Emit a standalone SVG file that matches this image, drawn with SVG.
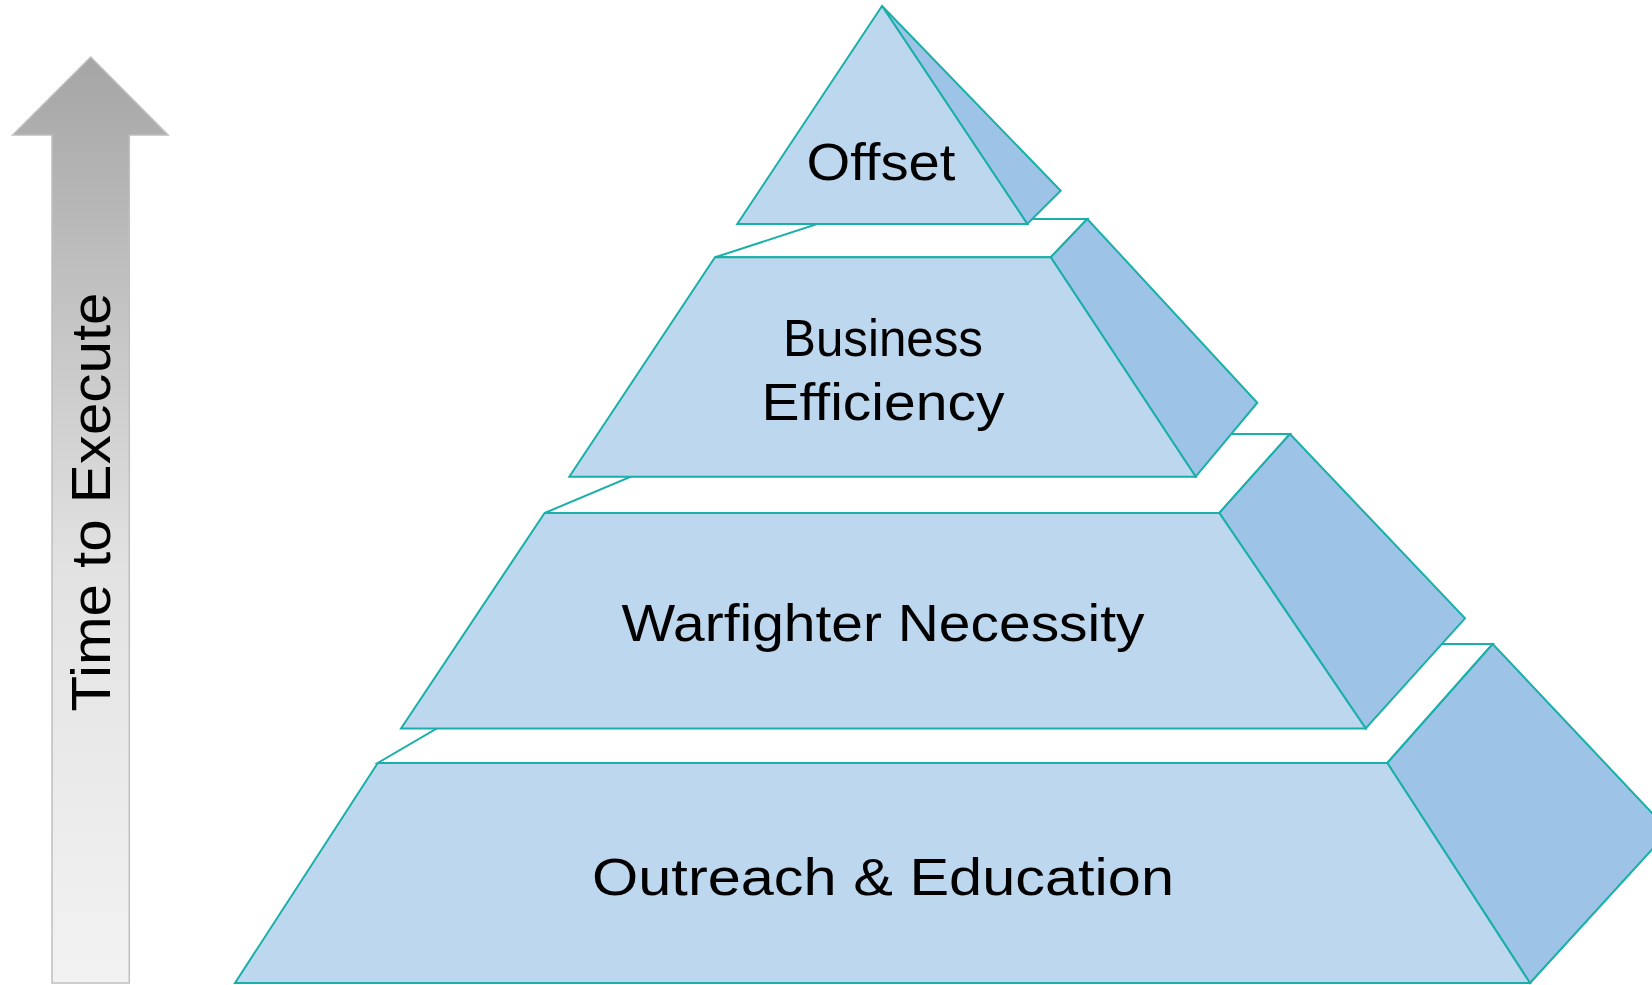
<svg xmlns="http://www.w3.org/2000/svg" width="1652" height="985" viewBox="0 0 1652 985">
<defs>
<linearGradient id="arrGrad" x1="0" y1="0" x2="0" y2="1">
<stop offset="0" stop-color="#A5A5A5"/>
<stop offset="0.55" stop-color="#E2E2E2"/>
<stop offset="1" stop-color="#F2F2F2"/>
</linearGradient>
</defs>
<style>
.front{fill:#BDD7EE;stroke:#1AAFA8;stroke-width:2;stroke-linejoin:miter}
.side{fill:#9DC3E6;stroke:#1AAFA8;stroke-width:2;stroke-linejoin:miter}
.topf{fill:#FFFFFF;stroke:#1AAFA8;stroke-width:2;stroke-linejoin:miter}
.lbl{font-family:"Liberation Sans",Arial,sans-serif;font-size:52px;fill:#000000;text-anchor:middle}
</style>
<rect width="1652" height="985" fill="#FFFFFF"/>
<g id="time-arrow">
<polygon points="90.7,57 168,135 129.3,135 129.3,983 52,983 52,135 12.7,135" fill="url(#arrGrad)" stroke="#BFBFBF" stroke-width="1.5"/>
<text class="lbl" font-size="55" transform="translate(110,502) rotate(-90)" textLength="419" lengthAdjust="spacingAndGlyphs" style="font-size:55px">Time to Execute</text>
</g>
<g id="outreach">
<polygon class="topf" points="377.8,763 1387.3,763 1492.7,644 581,644"/>
<polygon class="side" points="1387.3,763 1492.7,644 1669,831 1530,983"/>
<polygon class="front" points="377.8,763 1387.3,763 1530,983 235,983"/>
<text class="lbl" x="883" y="895" textLength="582" lengthAdjust="spacingAndGlyphs">Outreach &amp; Education</text>
</g>
<g id="warfighter">
<polygon class="topf" points="544.6,513 1219.3,513 1290,434 732,434"/>
<polygon class="side" points="1219.3,513 1290,434 1465,618.3 1365.7,728.5"/>
<polygon class="front" points="544.6,513 1219.3,513 1365.7,728.5 401,728.5"/>
<text class="lbl" x="883" y="641" textLength="523" lengthAdjust="spacingAndGlyphs">Warfighter Necessity</text>
</g>
<g id="business">
<polygon class="topf" points="715,257.3 1050.7,257.3 1087.3,219 832.5,219"/>
<polygon class="side" points="1050.7,257.3 1087.3,219 1257.3,402.7 1195.7,476.7"/>
<polygon class="front" points="715,257.3 1050.7,257.3 1195.7,476.7 569.3,476.7"/>
<text class="lbl" x="883" y="356" textLength="200" lengthAdjust="spacingAndGlyphs">Business</text>
<text class="lbl" x="883" y="420" textLength="243" lengthAdjust="spacingAndGlyphs">Efficiency</text>
</g>
<g id="offset">
<polygon class="side" points="882,6 1060.7,190.7 1027.3,224"/>
<polygon class="front" points="882,6 1027.3,224 737.3,224"/>
<text class="lbl" x="881" y="180" textLength="149" lengthAdjust="spacingAndGlyphs">Offset</text>
</g>
<g id="connectors"/>
</svg>
